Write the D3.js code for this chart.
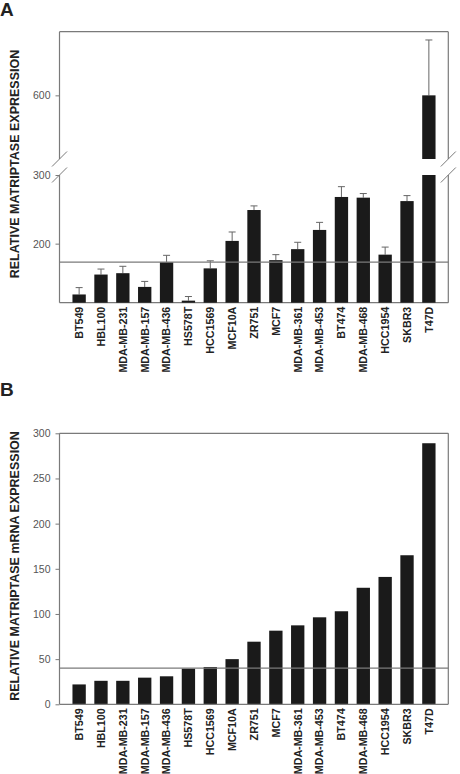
<!DOCTYPE html>
<html>
<head>
<meta charset="utf-8">
<script src="https://cdn.jsdelivr.net/npm/d3@7"></script>
<style>
  body { margin: 0; background: #fff; }
  svg { display: block; font-family: "Liberation Sans", Arial, sans-serif; }
</style>
</head>
<body>
<div id="chart"></div>
<script>
// cell lines (same order in both panels)
const cellLines = ["BT549", "HBL100", "MDA-MB-231", "MDA-MB-157", "MDA-MB-436", "HS578T",
  "HCC1569", "MCF10A", "ZR751", "MCF7", "MDA-MB-361", "MDA-MB-453", "BT474",
  "MDA-MB-468", "HCC1954", "SKBR3", "T47D"];

// panel A: relative matriptase (protein) expression, mean and upper error
const proteinMean = [126, 155, 157, 137, 173, 117, 164, 204, 249, 176, 192, 220, 268, 267, 184, 262, 600];
const proteinErr  = [136, 163, 167, 145, 183, 123, 175, 217, 255, 184, 202, 231, 283, 273, 195, 270, 687];
const proteinRef = 173;
const proteinTicksLow = [200, 300];
const proteinTicksHigh = [600];

// panel B: relative matriptase mRNA expression
const mrnaValues = [22, 26, 26, 29.5, 31, 39.5, 41.3, 50, 69.3, 81.5, 87.4, 96.3, 103, 129, 141, 165, 289];
const mrnaRef = 40;
const mrnaTicks = [0, 50, 100, 150, 200, 250, 300];

const W = 460, H = 774;
const axisColor = "#7a7a7a";
const barColor = "#1a1a1a";
const labelColor = "#555";

const svg = d3.select("#chart").append("svg")
  .attr("width", W)
  .attr("height", H);

const x = d3.scaleBand()
  .domain(cellLines)
  .range([60, 448])
  .paddingInner(0.39)
  .paddingOuter(0.57);

function drawXLabels(axisY) {
  svg.append("g")
    .selectAll("text")
    .data(cellLines)
    .join("text")
    .attr("transform", d => `translate(${x(d) + x.bandwidth() / 2},${axisY + 4}) rotate(-90)`)
    .attr("text-anchor", "end")
    .attr("dy", "0.36em")
    .style("font-size", "10.7px")
    .style("font-weight", "bold")
    .style("fill", "#222")
    .text(d => d);
}

function yTitle(text, cy) {
  svg.append("text")
    .attr("transform", `translate(19,${cy}) rotate(-90)`)
    .attr("text-anchor", "middle")
    .style("font-size", "12.5px")
    .style("font-weight", "bold")
    .style("fill", "#222")
    .text(text);
}

function panelLetter(letter, px, py) {
  svg.append("text")
    .attr("x", px)
    .attr("y", py)
    .style("font-size", "19px")
    .style("font-weight", "bold")
    .style("fill", "#222")
    .text(letter);
}

function styleAxis(g) {
  g.selectAll(".domain").remove();
  g.selectAll(".tick line").attr("stroke", axisColor);
  g.selectAll(".tick text")
    .style("font-size", "10.5px")
    .style("fill", labelColor)
    .style("font-family", "'Liberation Sans', Arial, sans-serif");
}

function vline(xp, y1, y2) {
  svg.append("line")
    .attr("x1", xp).attr("x2", xp)
    .attr("y1", y1).attr("y2", y2)
    .attr("stroke", axisColor).attr("stroke-width", 1.2);
}
function hline(y, x1, x2) {
  svg.append("line")
    .attr("x1", x1).attr("x2", x2)
    .attr("y1", y).attr("y2", y)
    .attr("stroke", axisColor).attr("stroke-width", 1.2);
}
function slash(cx, cy) {
  svg.append("line")
    .attr("x1", cx - 7.5).attr("x2", cx + 7.5)
    .attr("y1", cy + 7.5).attr("y2", cy - 7.5)
    .attr("stroke", axisColor).attr("stroke-width", 1);
}

// ---------- Panel A (broken axis) ----------
const left = 59.5, right = 448.3;
const aTop = 31.7, aBreakHigh = 159, aBreakLow = 175, aBottom = 302.7;

const yLow = d3.scaleLinear().domain([114, 300]).range([aBottom, aBreakLow]);
const yHigh = d3.scaleLinear().domain([500, 700]).range([aBreakHigh, aTop]);

panelLetter("A", 0, 16);
yTitle("RELATIVE MATRIPTASE EXPRESSION", 164);

svg.append("g")
  .attr("transform", `translate(${left},0)`)
  .call(d3.axisLeft(yLow).tickValues(proteinTicksLow).tickSize(4).tickPadding(5))
  .call(styleAxis);
svg.append("g")
  .attr("transform", `translate(${left},0)`)
  .call(d3.axisLeft(yHigh).tickValues(proteinTicksHigh).tickSize(4).tickPadding(5))
  .call(styleAxis);

// frame with breaks
hline(aTop, left, right);
hline(aBottom, left, right);
vline(left, aTop, aBreakHigh);
vline(left, aBreakLow, aBottom);
vline(right, aTop, aBreakHigh);
vline(right, aBreakLow, aBottom);
slash(left, aBreakHigh);
slash(left, aBreakLow);
slash(right, aBreakHigh);
slash(right, aBreakLow);

const proteinData = cellLines.map((c, i) => ({ cell: c, mean: proteinMean[i], err: proteinErr[i] }));

function yBroken(v) {
  return v > 300 ? yHigh(v) : yLow(v);
}

// error whiskers (upper only)
const errG = svg.append("g");
proteinData.forEach(d => {
  const cx = x(d.cell) + x.bandwidth() / 2;
  errG.append("line")
    .attr("x1", cx).attr("x2", cx)
    .attr("y1", yBroken(d.mean)).attr("y2", yBroken(d.err))
    .attr("stroke", "#666").attr("stroke-width", 1);
  errG.append("line")
    .attr("x1", cx - 3.5).attr("x2", cx + 3.5)
    .attr("y1", yBroken(d.err)).attr("y2", yBroken(d.err))
    .attr("stroke", "#666").attr("stroke-width", 1);
});

// bars, lower segment
svg.append("g")
  .selectAll("rect")
  .data(proteinData)
  .join("rect")
  .attr("x", d => x(d.cell))
  .attr("width", x.bandwidth())
  .attr("y", d => yLow(Math.min(d.mean, 300)))
  .attr("height", d => aBottom - yLow(Math.min(d.mean, 300)))
  .attr("fill", barColor);

// bars, upper segment
svg.append("g")
  .selectAll("rect")
  .data(proteinData.filter(d => d.mean > 300))
  .join("rect")
  .attr("x", d => x(d.cell))
  .attr("width", x.bandwidth())
  .attr("y", d => yHigh(d.mean))
  .attr("height", d => aBreakHigh - yHigh(d.mean))
  .attr("fill", barColor);

hline(yLow(proteinRef), left, right);
drawXLabels(aBottom);

// ---------- Panel B ----------
const bTop = 433.3, bBottom = 704.3;
const yB = d3.scaleLinear().domain([0, 300]).range([bBottom, bTop]);

panelLetter("B", 0, 396);
yTitle("RELATIVE MATRIPTASE mRNA EXPRESSION", 566);

svg.append("g")
  .attr("transform", `translate(${left},0)`)
  .call(d3.axisLeft(yB).tickValues(mrnaTicks).tickSize(4).tickPadding(5))
  .call(styleAxis);

const mrnaData = cellLines.map((c, i) => ({ cell: c, value: mrnaValues[i] }));

svg.append("g")
  .selectAll("rect")
  .data(mrnaData)
  .join("rect")
  .attr("x", d => x(d.cell))
  .attr("width", x.bandwidth())
  .attr("y", d => yB(d.value))
  .attr("height", d => bBottom - yB(d.value))
  .attr("fill", barColor);

hline(bTop, left, right);
hline(bBottom, left, right);
vline(left, bTop, bBottom);
vline(right, bTop, bBottom);
hline(yB(mrnaRef), left, right);

drawXLabels(bBottom);
</script>
</body>
</html>
